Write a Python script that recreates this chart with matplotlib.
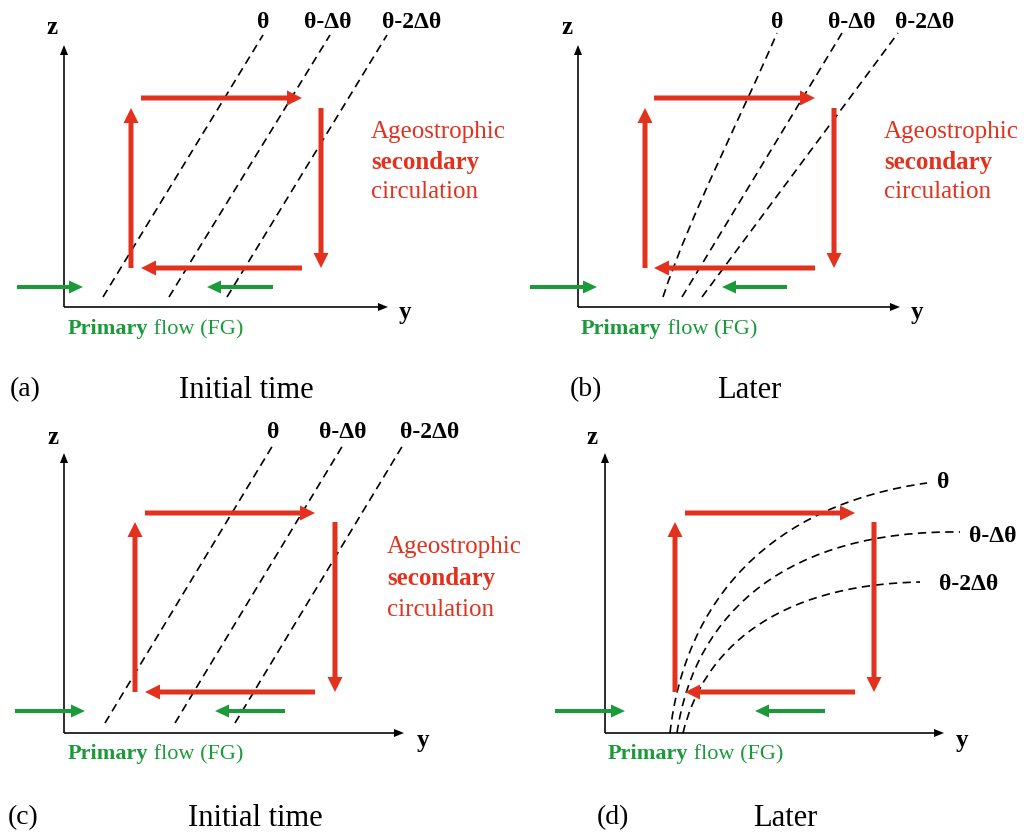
import matplotlib
matplotlib.use("Agg")
import matplotlib.pyplot as plt
from matplotlib.patches import FancyArrow, PathPatch
from matplotlib.path import Path

RED = '#e2311d'
GREEN = '#1b9a3a'
SERIF = 'Liberation Serif'

# panel order: a, b, c, d  (all positions in figure pixels, y downward)
axis_x0 = [64, 578, 64, 605]
axis_y0 = [307, 307, 733, 733]
axis_ztop = [45, 45, 453, 453]
axis_yend = [388, 900, 404, 944]

red_up_x = [131, 645, 135, 675]
red_down_x = [321, 834, 335, 874]
red_left_x = [141, 654, 145, 685]
red_right_x = [302, 815, 315, 855]
red_top_y = [98, 98, 513, 513]
red_vtop_y = [108, 108, 522, 522]
red_bot_y = [268, 268, 692, 692]

green_y = [287, 287, 711, 711]
green_in = [(17, 83), (530, 597), (15, 85), (555, 625)]
green_out = [(273, 207), (787, 722), (285, 215), (825, 755)]

iso_names = ['θ', 'θ-Δθ', 'θ-2Δθ']


def straight(p0, p1):
    return [p0, (p0[0] + (p1[0] - p0[0]) / 3, p0[1] + (p1[1] - p0[1]) / 3),
            (p0[0] + 2 * (p1[0] - p0[0]) / 3, p0[1] + 2 * (p1[1] - p0[1]) / 3), p1]


isentropes = [
    [straight((103, 297), (263, 35)), straight((169, 297), (330, 35)), straight((227, 297), (387, 35))],
    [[(663, 297), (690, 215), (742, 115), (777, 33)],
     straight((682, 297), (842, 33)), straight((702, 297), (898, 33))],
    [straight((105, 723), (273, 445)), straight((175, 723), (343, 445)), straight((235, 723), (403, 445))],
    [[(670, 733), (685, 600), (770, 505), (927, 483)],
     [(677, 733), (695, 610), (790, 530), (960, 532)],
     [(683, 733), (703, 650), (775, 585), (920, 582)]],
]
iso_label_xy = [
    [(263, 23), (328, 23), (412, 23)],
    [(777, 23), (852, 23), (925, 23)],
    [(273, 433), (343, 433), (430, 433)],
    [(943, 482), (993, 537), (969, 585)],
]

ageo_x = [371, 884, 387]
ageo_y = [(132, 162, 192), (132, 162, 192), (547, 578, 610)]

primary_x = [68, 581, 68, 608]
primary_y = [328, 328, 753, 753]
z_label_xy = [(52, 27), (567, 27), (53, 437), (592, 437)]
y_label_xy = [(405, 312), (917, 312), (423, 740), (962, 740)]

panel_tags = ['(a)', '(b)', '(c)', '(d)']
tag_x = [10, 570, 8, 597]
panel_titles = ['Initial time', 'Later', 'Initial time', 'Later']
title_x = [246, 749, 255, 785]
bottom_y = [390, 390, 818, 818]

fig = plt.figure(figsize=(10.24, 8.36), dpi=100)
ax = fig.add_axes([0, 0, 1, 1])
ax.set_xlim(0, 1024)
ax.set_ylim(836, 0)
ax.set_axis_off()


def arrow(x0, y0, x1, y1, color, w, hw, hl):
    ax.add_patch(FancyArrow(x0, y0, x1 - x0, y1 - y0, width=w, head_width=hw,
                            head_length=hl, length_includes_head=True,
                            color=color, lw=0, zorder=3))


for i in range(4):
    x0, y0 = axis_x0[i], axis_y0[i]
    # axes
    arrow(x0, y0, x0, axis_ztop[i], 'black', 1.6, 8, 10)
    arrow(x0, y0, axis_yend[i], y0, 'black', 1.6, 8, 10)
    ax.text(*z_label_xy[i], 'z', fontsize=18, fontweight='bold', family=SERIF,
            ha='center', va='center')
    ax.text(*y_label_xy[i], 'y', fontsize=18, fontweight='bold', family=SERIF,
            ha='center', va='center')

    # isentropes
    for pts, name, lxy in zip(isentropes[i], iso_names, iso_label_xy[i]):
        path = Path(pts, [Path.MOVETO, Path.CURVE4, Path.CURVE4, Path.CURVE4])
        ax.add_patch(PathPatch(path, fill=False, ec='black', lw=1.2,
                               ls=(0, (5, 3.2)), zorder=2))
        ax.text(*lxy, name, fontsize=17, fontweight='bold', family=SERIF,
                ha='center', va='center')

    # secondary circulation
    arrow(red_up_x[i], red_bot_y[i], red_up_x[i], red_vtop_y[i], RED, 5, 15, 15)
    arrow(red_left_x[i], red_top_y[i], red_right_x[i], red_top_y[i], RED, 5, 15, 15)
    arrow(red_down_x[i], red_vtop_y[i], red_down_x[i], red_bot_y[i], RED, 5, 15, 15)
    arrow(red_right_x[i], red_bot_y[i], red_left_x[i], red_bot_y[i], RED, 5, 15, 15)

    # primary flow
    arrow(green_in[i][0], green_y[i], green_in[i][1], green_y[i], GREEN, 4, 13, 14)
    arrow(green_out[i][0], green_y[i], green_out[i][1], green_y[i], GREEN, 4, 13, 14)
    t = ax.text(primary_x[i], primary_y[i] + 6, 'Primary', fontsize=16, fontweight='bold',
                family=SERIF, color=GREEN, ha='left', va='baseline')
    ax.annotate(' flow (FG)', xy=(1, 0), xycoords=t, fontsize=16, family=SERIF,
                color=GREEN, ha='left', va='bottom')

    ax.text(tag_x[i], bottom_y[i], panel_tags[i], fontsize=20, family=SERIF,
            ha='left', va='center')
    ax.text(title_x[i], bottom_y[i], panel_titles[i], fontsize=22, family=SERIF,
            ha='center', va='center')

for i in range(3):
    ax.text(ageo_x[i], ageo_y[i][0], 'Ageostrophic', fontsize=18, family=SERIF,
            color=RED, ha='left', va='center')
    ax.text(ageo_x[i], ageo_y[i][1], 'secondary', fontsize=18, fontweight='bold',
            family=SERIF, color=RED, ha='left', va='center')
    ax.text(ageo_x[i], ageo_y[i][2], 'circulation', fontsize=18, family=SERIF,
            color=RED, ha='left', va='center')

fig.savefig('out.png', dpi=100, facecolor='white')
